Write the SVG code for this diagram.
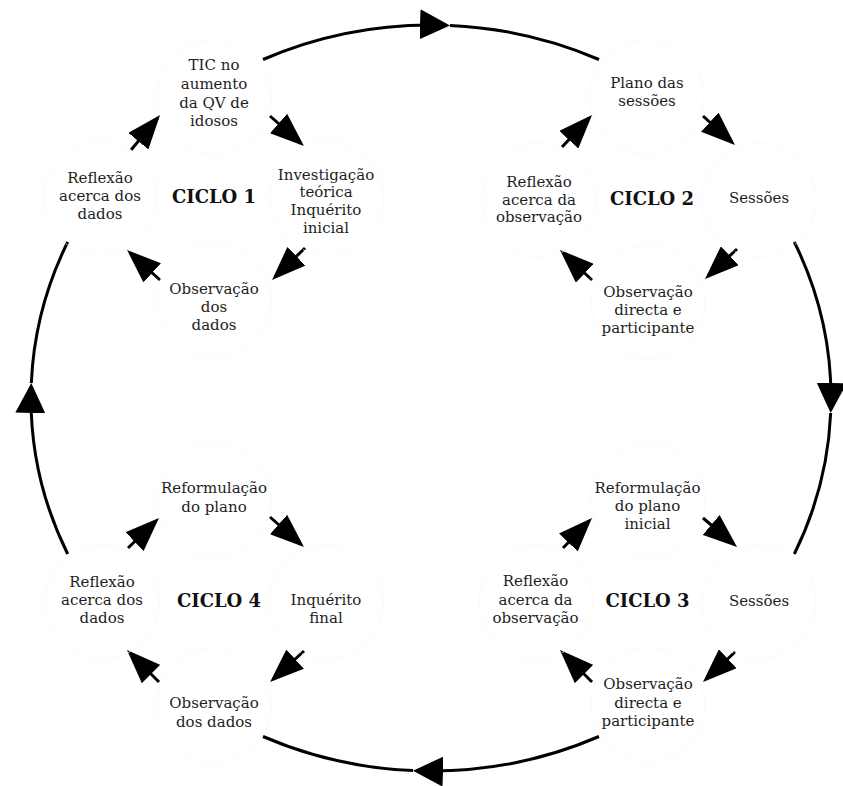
<svg xmlns="http://www.w3.org/2000/svg" width="843" height="786" viewBox="0 0 843 786">
<style>
.bg{fill:#fff}
.node circle{fill:none;stroke:#f6f6f6;stroke-width:1;stroke-dasharray:2 2}
text{font-family:"DejaVu Serif","Liberation Serif",serif;font-size:15px;fill:#1e1e1e;text-anchor:middle}
text.cyc{font-weight:bold;font-size:18px;fill:#111}
.arc{fill:none;stroke:#000;stroke-width:3}
.arr{stroke:#000;stroke-width:3;fill:none}
</style>
<defs>
<marker id="big" viewBox="0 0 30 30" refX="26" refY="15" markerWidth="30" markerHeight="30" markerUnits="userSpaceOnUse" orient="auto">
<path d="M0,0 L30,15 L0,30 z" fill="#000"/>
</marker>
<marker id="small" viewBox="0 0 34 26" refX="30" refY="13" markerWidth="34" markerHeight="26" markerUnits="userSpaceOnUse" orient="auto">
<path d="M0,0 L34,13 L0,26 z" fill="#000"/>
</marker>
</defs>
<rect class="bg" x="0" y="0" width="843" height="786"/>

<g id="connectors">
<path class="arc" d="M263,59.5 A400,373 0 0 1 446,25.26" marker-end="url(#big)"/>
<path class="arc" d="M450,25.42 A400,373 0 0 1 599,59.5"/>
<path class="arc" d="M794.3,242 A400,373 0 0 1 830.8,409" marker-end="url(#big)"/>
<path class="arc" d="M830.68,413 A400,373 0 0 1 794.3,554"/>
<path class="arc" d="M599,736.5 A400,373 0 0 1 417,770.77" marker-end="url(#big)"/>
<path class="arc" d="M413,770.62 A400,373 0 0 1 263,736.5"/>
<path class="arc" d="M67.7,554 A400,373 0 0 1 31.17,387" marker-end="url(#big)"/>
<path class="arc" d="M31.32,383 A400,373 0 0 1 67.7,242"/>

<line class="arr" x1="131" y1="150" x2="157.5" y2="118.1" marker-end="url(#small)"/>
<line class="arr" x1="270" y1="116" x2="301" y2="143.4" marker-end="url(#small)"/>
<line class="arr" x1="305" y1="248" x2="274.9" y2="277.2" marker-end="url(#small)"/>
<line class="arr" x1="160" y1="280" x2="130" y2="252.7" marker-end="url(#small)"/>

<line class="arr" x1="562" y1="147" x2="589.3" y2="117.9" marker-end="url(#small)"/>
<line class="arr" x1="703" y1="116" x2="732" y2="142.3" marker-end="url(#small)"/>
<line class="arr" x1="737" y1="249" x2="707.9" y2="276.3" marker-end="url(#small)"/>
<line class="arr" x1="592" y1="280" x2="562.9" y2="252.7" marker-end="url(#small)"/>

<line class="arr" x1="563" y1="548" x2="589.2" y2="520.9" marker-end="url(#small)"/>
<line class="arr" x1="703" y1="518" x2="734" y2="544.4" marker-end="url(#small)"/>
<line class="arr" x1="735" y1="652" x2="705.9" y2="679.3" marker-end="url(#small)"/>
<line class="arr" x1="592" y1="682" x2="562.8" y2="652.8" marker-end="url(#small)"/>

<line class="arr" x1="128" y1="548" x2="156.1" y2="520.8" marker-end="url(#small)"/>
<line class="arr" x1="270" y1="517" x2="301" y2="544.4" marker-end="url(#small)"/>
<line class="arr" x1="304" y1="651" x2="273" y2="679.3" marker-end="url(#small)"/>
<line class="arr" x1="159" y1="682" x2="129.8" y2="652.8" marker-end="url(#small)"/>
</g>

<!-- Cycle 1 -->
<g id="c1-tic" class="node"><circle cx="214" cy="97" r="57"/>
<text x="214" y="70">TIC no</text><text x="214" y="89">aumento</text><text x="214" y="107.5">da QV de</text><text x="214" y="126">idosos</text></g>
<g id="c1-inv" class="node"><circle cx="327" cy="198" r="57"/>
<text x="326" y="180">Investigação</text><text x="326" y="197">teórica</text><text x="326" y="215">Inquérito</text><text x="326" y="233">inicial</text></g>
<g id="c1-obs" class="node"><circle cx="214" cy="300" r="57"/>
<text x="214" y="294">Observação</text><text x="214" y="312">dos</text><text x="214" y="330">dados</text></g>
<g id="c1-refl" class="node"><circle cx="100" cy="198" r="57"/>
<text x="100" y="183">Reflexão</text><text x="100" y="201">acerca dos</text><text x="100" y="219">dados</text></g>
<g id="c1-label"><text class="cyc" x="214" y="203">CICLO 1</text></g>

<!-- Cycle 2 -->
<g id="c2-plano" class="node"><circle cx="647" cy="97" r="57"/>
<text x="647" y="88">Plano das</text><text x="647" y="106">sessões</text></g>
<g id="c2-sess" class="node"><circle cx="759" cy="200" r="57"/>
<text x="759" y="203">Sessões</text></g>
<g id="c2-obs" class="node"><circle cx="648" cy="302" r="57"/>
<text x="648" y="297">Observação</text><text x="648" y="315">directa e</text><text x="648" y="333">participante</text></g>
<g id="c2-refl" class="node"><circle cx="539" cy="200" r="57"/>
<text x="539" y="187">Reflexão</text><text x="539" y="205">acerca da</text><text x="539" y="222">observação</text></g>
<g id="c2-label"><text class="cyc" x="652" y="205">CICLO 2</text></g>

<!-- Cycle 3 -->
<g id="c3-reform" class="node"><circle cx="648" cy="500" r="57"/>
<text x="647.5" y="493">Reformulação</text><text x="647.5" y="511">do plano</text><text x="647.5" y="529">inicial</text></g>
<g id="c3-sess" class="node"><circle cx="759" cy="602" r="57"/>
<text x="759" y="606">Sessões</text></g>
<g id="c3-obs" class="node"><circle cx="648" cy="705" r="57"/>
<text x="648" y="689">Observação</text><text x="648" y="708">directa e</text><text x="648" y="726">participante</text></g>
<g id="c3-refl" class="node"><circle cx="536" cy="602" r="57"/>
<text x="535.5" y="586">Reflexão</text><text x="535.5" y="604.5">acerca da</text><text x="535.5" y="623">observação</text></g>
<g id="c3-label"><text class="cyc" x="647.5" y="607">CICLO 3</text></g>

<!-- Cycle 4 -->
<g id="c4-reform" class="node"><circle cx="214" cy="500" r="57"/>
<text x="214" y="493">Reformulação</text><text x="214" y="511.5">do plano</text></g>
<g id="c4-inq" class="node"><circle cx="326" cy="602" r="57"/>
<text x="326" y="605">Inquérito</text><text x="326" y="623">final</text></g>
<g id="c4-obs" class="node"><circle cx="214" cy="705" r="57"/>
<text x="214" y="708">Observação</text><text x="214" y="726.5">dos dados</text></g>
<g id="c4-refl" class="node"><circle cx="102" cy="602" r="57"/>
<text x="102" y="587">Reflexão</text><text x="102" y="605">acerca dos</text><text x="102" y="623">dados</text></g>
<g id="c4-label"><text class="cyc" x="219" y="607">CICLO 4</text></g>
</svg>
